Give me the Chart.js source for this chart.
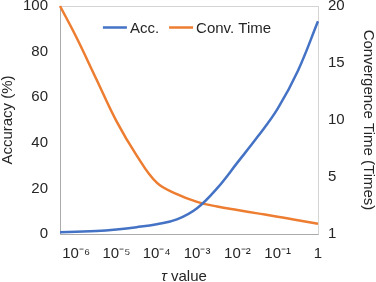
<!DOCTYPE html>
<html>
<head>
<meta charset="utf-8">
<script src="https://cdn.jsdelivr.net/npm/chart.js@4.4.0/dist/chart.umd.min.js"></script>
<style>
  html, body { margin: 0; padding: 0; background: #fff; }
  #wrap { width: 376px; height: 282px; }
</style>
</head>
<body>
<div id="wrap"><canvas id="chart"></canvas></div>
<script>
// x positions are log10(tau)
const TAU_LOG = [-6.4, -6, -5.5, -5, -4.5, -4, -3.5, -3, -2.5, -2, -1.5, -1, -0.5, 0];
const ACCURACY = [0.8, 1.0, 1.3, 2.0, 3.0, 4.3, 6.4, 11.3, 20.1, 31.3, 42.6, 55.0, 71.5, 93.3];
const CONV_TIME = [20, 17.3, 13.6, 9.9, 6.9, 4.5, 3.5, 2.82, 2.41, 2.1, 1.81, 1.52, 1.2, 0.9];

const X_TICKS = [-6, -5, -4, -3, -2, -1, 0];
const X_LABELS = ["10⁻⁶", "10⁻⁵", "10⁻⁴", "10⁻³", "10⁻²", "10⁻¹", "1"];
const Y2_TICKS = [0, 5, 10, 15, 20];
const Y2_LABELS = ["1", "5", "10", "15", "20"];

const FONT = '"Liberation Sans", Arial, sans-serif';
const TEXT = "#262626";

Chart.defaults.font.family = FONT;
Chart.defaults.color = TEXT;

const pts = (ys) => TAU_LOG.map((x, i) => ({ x, y: ys[i] }));

const frame = {
  id: "frame",
  beforeDatasetsDraw(chart) {
    const { ctx, chartArea: a } = chart;
    ctx.save();
    ctx.lineWidth = 1;
    ctx.strokeStyle = "#D4D4D4";
    ctx.strokeRect(a.left + 0.5, a.top + 0.5, a.right - a.left, a.bottom - a.top);
    ctx.strokeStyle = "#ABABAB";
    ctx.beginPath();
    ctx.moveTo(a.left + 0.5, a.top);
    ctx.lineTo(a.left + 0.5, a.bottom + 0.5);
    ctx.lineTo(a.right + 0.5, a.bottom + 0.5);
    ctx.stroke();
    ctx.restore();
  },
};

const insideLegend = {
  id: "insideLegend",
  afterDraw(chart) {
    const { ctx, chartArea: a } = chart;
    ctx.save();
    ctx.font = "15px " + FONT;
    ctx.textBaseline = "middle";
    const items = chart.data.datasets.map((d) => ({ text: d.label, color: d.borderColor }));
    const lineW = 24, gap = 3, itemGap = 10;
    const widths = items.map((it) => lineW + gap + ctx.measureText(it.text).width);
    const total = widths.reduce((s, w) => s + w, 0) + itemGap * (items.length - 1);
    let x = (a.left + a.right) / 2 - total / 2 - 2;
    const y = a.top + 21.5;
    items.forEach((it, i) => {
      ctx.strokeStyle = it.color;
      ctx.lineWidth = 2.5;
      ctx.beginPath();
      ctx.moveTo(x, y);
      ctx.lineTo(x + lineW, y);
      ctx.stroke();
      ctx.fillStyle = TEXT;
      ctx.fillText(it.text, x + lineW + gap, y + 1);
      x += widths[i] + itemGap;
    });

    // x axis title with italic tau
    const cx = (a.left + a.right) / 2 - 5;
    const ty = 276.5;
    ctx.font = "italic 15px " + FONT;
    const w1 = ctx.measureText("τ").width;
    ctx.font = "15px " + FONT;
    const w2 = ctx.measureText(" value").width;
    const tx = cx - (w1 + w2) / 2;
    ctx.font = "italic 15px " + FONT;
    ctx.fillText("τ", tx, ty);
    ctx.font = "15px " + FONT;
    ctx.fillText(" value", tx + w1, ty);
    ctx.restore();
  },
};

new Chart(document.getElementById("chart"), {
  type: "line",
  data: {
    datasets: [
      {
        label: "Acc.",
        data: pts(ACCURACY),
        yAxisID: "y",
        borderColor: "#4472C4",
        borderWidth: 2.5,
        pointRadius: 0,
        tension: 0.4,
        clip: false,
      },
      {
        label: "Conv. Time",
        data: pts(CONV_TIME),
        yAxisID: "y1",
        borderColor: "#ED7D31",
        borderWidth: 2.5,
        pointRadius: 0,
        tension: 0.4,
        clip: false,
      },
    ],
  },
  options: {
    responsive: true,
    maintainAspectRatio: false,
    animation: false,
    layout: { padding: { top: 6, left: 0, right: 0, bottom: 0 } },
    plugins: { legend: { display: false }, tooltip: { enabled: false } },
    scales: {
      x: {
        type: "linear",
        min: -6.4,
        max: 0,
        grid: { display: false },
        border: { display: false },
        afterBuildTicks: (s) => { s.ticks = X_TICKS.map((v) => ({ value: v })); },
        ticks: {
          autoSkip: false,
          maxRotation: 0,
          padding: 3,
          font: { size: 15 },
          callback: (v, i) => X_LABELS[i],
        },
        afterFit: (s) => { s.height = 48; s.paddingLeft = 0; s.paddingRight = 0; },
      },
      y: {
        position: "left",
        min: 0,
        max: 100,
        grid: { display: false, drawTicks: false },
        border: { display: false },
        ticks: { stepSize: 20, padding: 12, font: { size: 15 } },
        title: { display: true, text: "Accuracy (%)", font: { size: 15, lineHeight: 1 }, padding: 0 },
        afterFit: (s) => { s.width = 60; s.paddingTop = 0; s.paddingBottom = 0; },
      },
      y1: {
        position: "right",
        min: 0,
        max: 20,
        grid: { display: false, drawTicks: false },
        border: { display: false },
        afterBuildTicks: (s) => { s.ticks = Y2_TICKS.map((v) => ({ value: v })); },
        ticks: { padding: 10, font: { size: 15 }, callback: (v, i) => Y2_LABELS[i] },
        title: { display: true, text: "Convergence Time (Times)", font: { size: 15, lineHeight: 1 }, padding: 0 },
        afterFit: (s) => { s.width = 58; s.paddingTop = 0; s.paddingBottom = 0; },
      },
    },
  },
  plugins: [frame, insideLegend],
});
</script>
</body>
</html>
